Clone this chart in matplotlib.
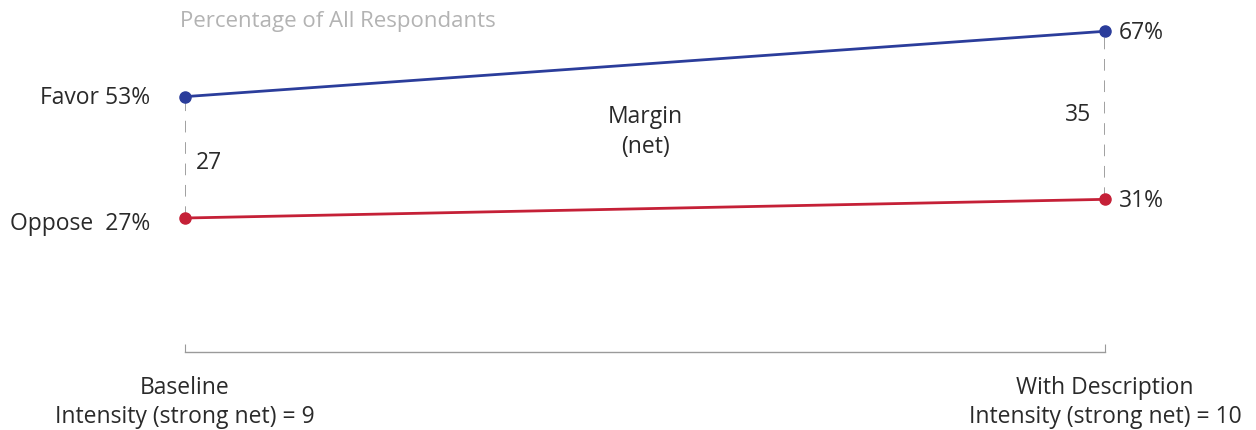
import numpy as np
import matplotlib.pyplot as plt

plt.rcParams['font.family'] = ['Open Sans', 'DejaVu Sans']

# data
stages = ['Baseline\nIntensity (strong net) = 9',
          'With Description\nIntensity (strong net) = 10']
favor = [53, 67]
oppose = [27, 31]
margins = [27, 35]

blue = '#2b3d9b'
red = '#c52037'
grey = '#a0a0a0'
txt = '#2a2a2a'

fig = plt.figure(figsize=(12.56, 4.30), dpi=100)
ax = fig.add_axes([185 / 1256, 78 / 430, 920 / 1256, 352 / 430])
x = np.arange(len(stages))

# dashed margin connectors
for i in x:
    ax.plot([x[i], x[i]], [oppose[i], favor[i]], color=grey, lw=1.4,
            dashes=(6, 5), zorder=1)

ax.plot(x, favor, color=blue, lw=2, marker='o', ms=8, zorder=3, clip_on=False)
ax.plot(x, oppose, color=red, lw=2, marker='o', ms=8, zorder=3, clip_on=False)

ax.set_xlim(0, 1)
ax.set_ylim(-1.7, 73.7)

fs = 16.5
# end labels
ax.annotate('Favor %d%%' % favor[0], (x[0], favor[0]), xytext=(-25, -1),
            textcoords='offset points', ha='right', va='center',
            fontsize=fs, color=txt)
ax.annotate('Oppose  %d%%' % oppose[0], (x[0], oppose[0]), xytext=(-25, -4),
            textcoords='offset points', ha='right', va='center',
            fontsize=fs, color=txt)
ax.annotate('%d%%' % favor[1], (x[1], favor[1]), xytext=(10, -1),
            textcoords='offset points', ha='left', va='center',
            fontsize=fs, color=txt)
ax.annotate('%d%%' % oppose[1], (x[1], oppose[1]), xytext=(10, -1),
            textcoords='offset points', ha='left', va='center',
            fontsize=fs, color=txt)

# margin values
ax.annotate(str(margins[0]), (x[0], (favor[0] + oppose[0]) / 2),
            xytext=(8, -4), textcoords='offset points', ha='left',
            va='center', fontsize=fs, color=txt)
ax.annotate(str(margins[1]), (x[1], (favor[1] + oppose[1]) / 2),
            xytext=(-10, 0), textcoords='offset points', ha='right',
            va='center', fontsize=fs, color=txt)

ax.text(0.5, 0.625, 'Margin\n(net)', transform=ax.transAxes, ha='center',
        va='center', fontsize=fs, color=txt, linespacing=1.35)

fig.text(180 / 1256, 1 - 21 / 430, 'Percentage of All Respondants',
         ha='left', va='center', fontsize=16, color='#b3b3b3')

# axes styling
for s in ['top', 'right', 'left']:
    ax.spines[s].set_visible(False)
ax.spines['bottom'].set_color('#9a9a9a')
ax.spines['bottom'].set_linewidth(1)
ax.set_yticks([])
ax.set_xticks(x)
ax.set_xticklabels(stages, fontsize=fs, color=txt, linespacing=1.3)
ax.tick_params(axis='x', direction='in', length=6, color='#9a9a9a', pad=17)

fig.savefig('out.png', dpi=100)
